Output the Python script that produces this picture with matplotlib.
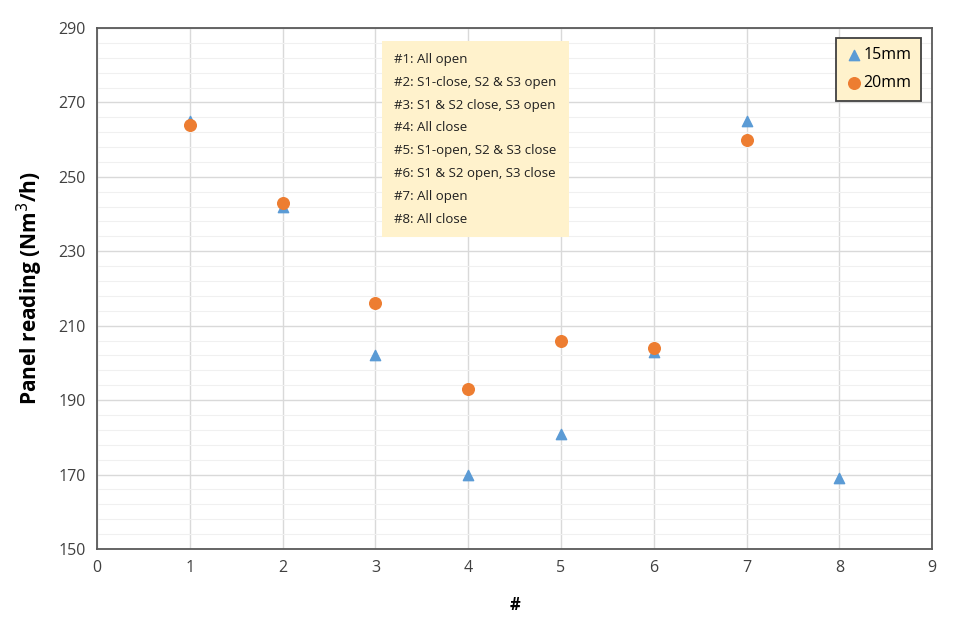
import matplotlib.pyplot as plt
import numpy as np

plt.rcParams['font.family'] = ['Open Sans', 'DejaVu Sans']

# data
x_15 = [1, 2, 3, 4, 5, 6, 7, 8]
y_15 = [265, 242, 202, 170, 181, 203, 265, 169]
x_20 = [1, 2, 3, 4, 5, 6, 7]
y_20 = [264, 243, 216, 193, 206, 204, 260]

notes = ['#1: All open',
         '#2: S1-close, S2 & S3 open',
         '#3: S1 & S2 close, S3 open',
         '#4: All close',
         '#5: S1-open, S2 & S3 close',
         '#6: S1 & S2 open, S3 close',
         '#7: All open',
         '#8: All close']

fig = plt.figure(figsize=(9.56, 6.22), dpi=100)
ax = fig.add_axes([0.1015, 0.1174, 0.8735, 0.8376])

ax.scatter(x_15, y_15, marker='^', s=55, color='#5B9BD5', label='15mm', zorder=3)
ax.scatter(x_20, y_20, marker='o', s=70, color='#ED7D31', label='20mm', zorder=4)

ax.set_xlim(0, 9)
ax.set_ylim(150, 290)
ax.set_xticks(np.arange(0, 10, 1))
ax.set_yticks(np.arange(150, 291, 20))
ax.set_yticks(np.arange(150, 291, 4), minor=True)

ax.grid(which='major', color='#d9d9d9', linewidth=1.0)
ax.grid(which='minor', axis='y', color='#f0f0f0', linewidth=0.8)
ax.set_axisbelow(True)
ax.tick_params(which='both', length=0, labelsize=11.5, colors='#404040', pad=8)

for s in ax.spines.values():
    s.set_color('#595959')
    s.set_linewidth(1.3)

ax.set_ylabel('Panel reading (Nm$^3$/h)', fontsize=15, fontweight='bold', labelpad=10)
ax.set_xlabel('#', fontsize=12, fontweight='bold', labelpad=14)

ax.text(0.356, 0.952, '\n'.join(notes), transform=ax.transAxes, fontsize=9.5,
        va='top', ha='left', linespacing=1.98, color='#202020',
        bbox=dict(boxstyle='square,pad=0.9', facecolor='#FFF2CC', edgecolor='none'))

leg = ax.legend(loc='upper right', bbox_to_anchor=(0.9868, 0.981), borderaxespad=0,
                fontsize=11.5, handletextpad=0.1, handlelength=1.0, borderpad=0.6,
                labelspacing=0.75, fancybox=False, framealpha=1)
leg.get_frame().set_facecolor('#FFF2CC')
leg.get_frame().set_edgecolor('#404040')
leg.get_frame().set_linewidth(1.3)

plt.savefig('out.png', dpi=100)
